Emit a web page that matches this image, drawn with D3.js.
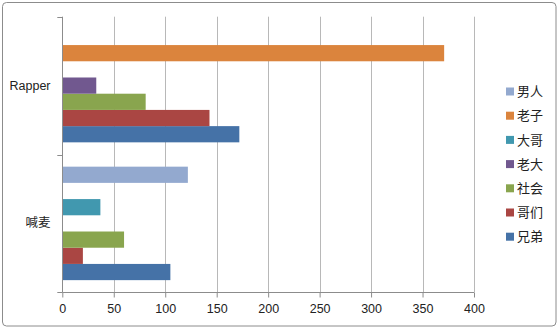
<!DOCTYPE html>
<html><head><meta charset="utf-8">
<script src="https://cdn.jsdelivr.net/npm/d3@7"></script>
<style>
html,body{margin:0;padding:0;background:#fff;}
svg{display:block;}
text{font-family:"Liberation Sans","Noto Sans CJK SC",sans-serif;fill:#222;}
</style></head>
<body>
<svg id="chart" width="559" height="329"></svg>
<script>
const categories = ["喊麦", "Rapper"];           // bottom to top
const seriesNames = ["兄弟", "哥们", "社会", "老大", "大哥", "老子", "男人"];
const seriesColors = ["#4572A7", "#AA4643", "#89A54E", "#71588F", "#4198AF", "#DB843D", "#93A9CF"];
const values兄弟 = [105, 172];
const values哥们 = [20, 143];
const values社会 = [60, 81];
const values老大 = [0, 33];
const values大哥 = [37, 0];
const values老子 = [0, 371];
const values男人 = [122, 0];
const seriesValues = [values兄弟, values哥们, values社会, values老大, values大哥, values老子, values男人];
const xTicks = [0, 50, 100, 150, 200, 250, 300, 350, 400];

const svg = d3.select("#chart");
svg.append("rect").attr("x", 2.5).attr("y", 2.5).attr("width", 553.5).attr("height", 323.5)
  .attr("rx", 4).attr("fill", "#fff").attr("stroke", "#8c8c8c").attr("stroke-width", 1);

const L = 62.3, R = 474, T = 16.7, B = 292.3;
const x = d3.scaleLinear().domain([0, 400]).range([L, R]);
const y = d3.scaleBand().domain(categories).range([B, T]).paddingInner(0).paddingOuter(0);
const bandH = y.bandwidth();
const barH = bandH / (seriesNames.length + 1.5);
const gapHalf = barH * 0.75;

// gridlines
svg.append("g").selectAll("line").data(xTicks.slice(1)).join("line")
  .attr("x1", d => Math.round(x(d)) + 0.5).attr("x2", d => Math.round(x(d)) + 0.5)
  .attr("y1", T).attr("y2", B)
  .attr("stroke", "#b8b8b8").attr("stroke-width", 1);

// bars
seriesNames.forEach((s, si) => {
  svg.append("g").selectAll("rect").data(categories.map((c, ci) => ({c, v: seriesValues[si][ci]})))
    .join("rect")
    .attr("x", x(0))
    .attr("y", d => y(d.c) + bandH - gapHalf - (si + 1) * barH)
    .attr("width", d => x(d.v) - x(0))
    .attr("height", barH)
    .attr("fill", seriesColors[si]);
});

// x axis
const xAxis = d3.axisBottom(x).tickValues(xTicks).tickSize(5).tickPadding(5);
const gx = svg.append("g").attr("transform", `translate(0,${Math.round(B) + 0.5})`).call(xAxis);
gx.select(".domain").attr("stroke", "#8c8c8c").attr("d", `M${L},0H${R}`);
gx.selectAll(".tick line").attr("stroke", "#8c8c8c").attr("y1", 0).attr("y2", 5);
gx.selectAll(".tick text").attr("font-size", 12.5).attr("font-family", "Liberation Sans, sans-serif").attr("fill", "#222").attr("dy", "0.85em");

// y axis
const yAxis = d3.axisLeft(y).tickSize(0).tickPadding(12);
const gy = svg.append("g").attr("transform", `translate(${Math.round(L) + 0.5},0)`).call(yAxis);
gy.select(".domain").attr("stroke", "#8c8c8c").attr("d", `M0,${T}V${B}`);
gy.selectAll(".tick text").attr("font-size", 12.5).attr("fill", "#222")
  .attr("font-family", "Liberation Sans, Noto Sans CJK SC, sans-serif");
// category boundary ticks
const bounds = [T, y(categories[0]), B];
svg.append("g").selectAll("line").data(bounds).join("line")
  .attr("x1", L - 5).attr("x2", L).attr("y1", d => Math.round(d) + 0.5).attr("y2", d => Math.round(d) + 0.5)
  .attr("stroke", "#8c8c8c");

// legend (reverse order)
const legendOrder = seriesNames.map((n, i) => ({n, c: seriesColors[i]})).reverse();
const lg = svg.append("g").selectAll("g").data(legendOrder).join("g")
  .attr("transform", (d, i) => `translate(506,${91.5 + i * 24.2})`);
lg.append("rect").attr("x", 0).attr("y", -4).attr("width", 8).attr("height", 8).attr("fill", d => d.c);
lg.append("text").attr("x", 11).attr("y", 0).attr("dy", "0.36em").attr("font-size", 13)
  .attr("font-family", "Noto Sans CJK SC, sans-serif").text(d => d.n);
</script>
</body></html>
